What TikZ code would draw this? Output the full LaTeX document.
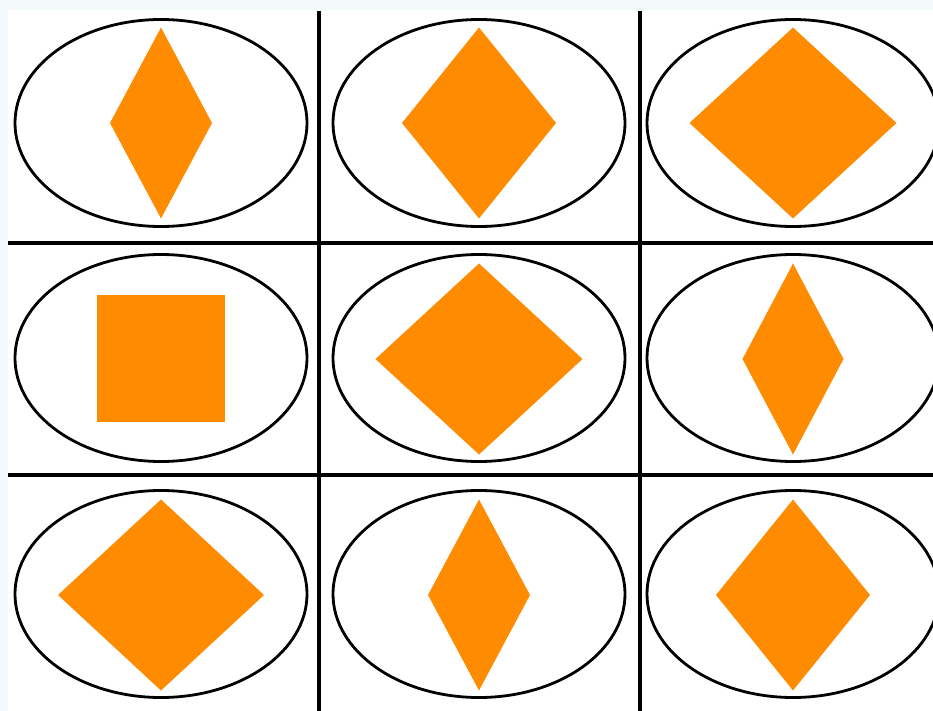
\documentclass[tikz,border=0pt]{standalone}
\definecolor{edgebg}{RGB}{244,249,252}
\definecolor{shapeorange}{RGB}{255,140,0}
\tikzset{
  gridline/.style={line width=4.4pt, black},
  oval/.style={line width=2.8pt, black},
  shapefill/.style={fill=shapeorange, draw=none}
}
\begin{document}
\begin{tikzpicture}[x=1pt,y=-1pt]
\useasboundingbox (0,0) rectangle (933,711);
\fill[edgebg] (0,0) rectangle (933,711);
\fill[white] (8,10) rectangle (933,711);
\begin{scope}
\clip (0,0) rectangle (933,711);
% ellipses
\foreach \cx in {161,479,793}{
  \foreach \cy in {123,358,594}{
    \draw[oval] (\cx,\cy) ellipse [x radius=146, y radius=103.5];
  }
}
\end{scope}
% diamonds: centre x, centre y, half width
\foreach \cx/\cy/\hw in {161/123/51, 479/123/77, 793/123/103.5,
                         479/359/103.5, 793/359/50.5,
                         161/595/103, 479/595/51, 793/595/77}{
  \fill[shapefill] (\cx,\cy-95.5) -- (\cx+\hw,\cy) -- (\cx,\cy+95.5) -- (\cx-\hw,\cy) -- cycle;
}
% square
\fill[shapefill] (97,295) rectangle (225,422);
% grid lines
\draw[gridline] (319,11) -- (319,711);
\draw[gridline] (640,11) -- (640,711);
\draw[gridline] (8,243) -- (933,243);
\draw[gridline] (8,475) -- (933,475);
\end{tikzpicture}
\end{document}
